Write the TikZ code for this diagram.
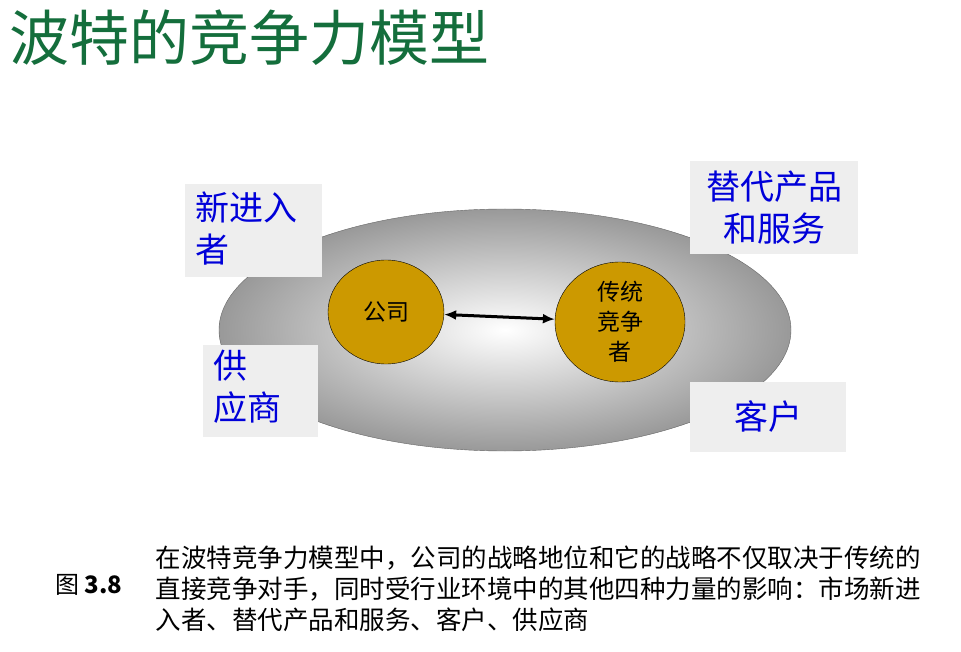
\documentclass[tikz,border=0pt]{standalone}
\usepackage{fontspec}
\setmainfont{Liberation Sans}
\newfontfamily\cjk{Noto Sans CJK SC}
\usetikzlibrary{shapes.geometric,positioning,arrows.meta}
\definecolor{titlegreen}{RGB}{20,110,60}
\definecolor{gold}{RGB}{204,153,0}
\definecolor{boxgray}{RGB}{238,238,238}
\tikzstyle{force}=[fill=boxgray,text=blue!85!black,font=\cjk\fontsize{34}{42}\selectfont,inner sep=0pt]
\tikzstyle{player}=[ellipse,draw=black,fill=gold,font=\cjk\fontsize{23}{30}\selectfont,align=center,inner sep=0pt]

\begin{document}
\begin{tikzpicture}[x=1pt,y=-1pt]
      \useasboundingbox (0,0) rectangle (961,652);
      \node[anchor=west,text=titlegreen,font=\cjk\fontsize{60}{66}\selectfont] (title) at (6,38) {波特的竞争力模型};

      % market
      \node[ellipse,draw=black!60,inner color=white,outer color=black!40,minimum width=572,minimum height=242] (market) at (505,330) {};

      \node[player,minimum width=116,minimum height=104] (firm) at (386,312) {公司};
      \node[player,minimum width=130,minimum height=120] (rival) at (620,322) {传统\\竞争\\者};
      \draw[{Latex[length=12pt,width=10pt]}-{Latex[length=12pt,width=10pt]},line width=3pt] (firm) -- (rival);

      \node[force,minimum width=137,minimum height=93] (entrant) at (253,231) {};
      \node[force,align=left,anchor=north west] at (195,192) {新进入\\者};
      \node[force,align=center,minimum width=168,minimum height=93] (substitute) at (774,208) {替代产品\\和服务};
      \node[force,minimum width=115,minimum height=92] (supplier) at (260,391) {};
      \node[force,align=left,anchor=north west] at (213,350) {供\\应商};
      \node[force,minimum width=156,minimum height=70] (customer) at (768,417) {客户};

      % caption
      \node[anchor=west,font=\cjk\fontsize{24}{28}\selectfont] (fig) at (52,585) {图 \textbf{3.8}};
      \node[anchor=north west,align=left,font=\cjk\fontsize{25.5}{31}\selectfont] (text) at (152,542)
        {在波特竞争力模型中，公司的战略地位和它的战略不仅取决于传统的\\直接竞争对手，同时受行业环境中的其他四种力量的影响：市场新进\\入者、替代产品和服务、客户、供应商};
    \end{tikzpicture}
\end{document}
